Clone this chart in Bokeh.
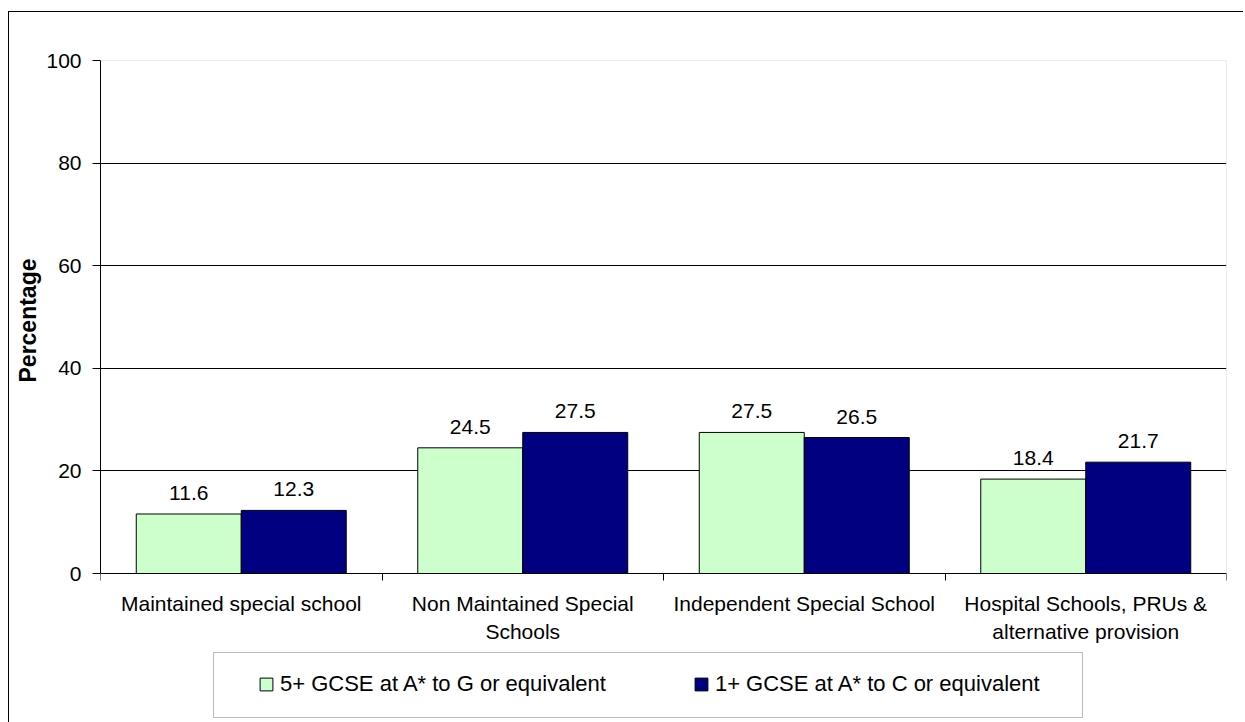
from bokeh.plotting import figure
from bokeh.layouts import column
from bokeh.models import (ColumnDataSource, FixedTicker, LabelSet, Legend, LegendItem,
                          Range1d, BoxAnnotation, Title)
from bokeh.core.properties import value
from bokeh.transform import dodge
from bokeh.embed import file_html
from bokeh.resources import INLINE

# ---- data ----
categories = ["Maintained special school",
              "Non Maintained Special\nSchools",
              "Independent Special School",
              "Hospital Schools, PRUs &\nalternative provision"]
series_names = ["5+ GCSE at A* to G or equivalent",
                "1+ GCSE at A* to C or equivalent"]
gcse5_ag = [11.6, 24.5, 27.5, 18.4]
gcse1_ac = [12.3, 27.5, 26.5, 21.7]
y_ticks = [0, 20, 40, 60, 80, 100]
y_grid = [20, 40, 60, 80]
y_title = "Percentage"

FONT = "Liberation Sans"
GREEN = "#CCFFCC"
NAVY = "#000080"

# page geometry: content origin after margin (8, 11) and 1px border
OX, OY = 9, 12
W, H = 1234, 710
PLOT_L, PLOT_T, PLOT_R, PLOT_B = 100, 60, 1226, 573   # plot area in page pixels
FRAME_B = OY + H                                      # frame runs to the canvas bottom
Y_MAX = 100
y_min = -(FRAME_B - PLOT_B) * Y_MAX / (PLOT_B - PLOT_T)

xc = [i + 0.5 for i in range(len(categories))]
src = ColumnDataSource(dict(
    xc=xc, g=gcse5_ag, b=gcse1_ac,
    gl=[f"{v:.1f}" for v in gcse5_ag],
    bl=[f"{v:.1f}" for v in gcse1_ac],
))

p = figure(width=W, height=H, x_range=Range1d(0, len(categories)), y_range=Range1d(y_min, Y_MAX),
           output_backend="svg", toolbar_location=None, min_border=0)
p.min_border_left = PLOT_L - OX
p.min_border_top = PLOT_T - OY
p.min_border_right = W - (PLOT_R - OX)
p.min_border_bottom = 0
p.background_fill_color = "white"
p.border_fill_color = "white"
p.outline_line_color = None

# plot-area border (grey)
p.add_layout(BoxAnnotation(left=0, right=len(categories), bottom=0, top=Y_MAX,
                           fill_alpha=0, fill_color=None, line_color="#808080",
                           line_width=1, level="underlay"))

BW = 0.373
OFF = 0.1865
r1 = p.vbar(x=dodge("xc", -OFF), top="g", width=BW, source=src,
            fill_color=GREEN, line_color="black", line_width=1)
r2 = p.vbar(x=dodge("xc", OFF), top="b", width=BW, source=src,
            fill_color=NAVY, line_color="black", line_width=1)

for xs, ys, ts in [(dodge("xc", -OFF), "g", "gl"), (dodge("xc", OFF), "b", "bl")]:
    p.add_layout(LabelSet(x=xs, y=ys, text=ts, source=src, text_align="center",
                          text_baseline="alphabetic", y_offset=14,
                          text_font_size="21px", text_font=value(FONT), text_color="black"))

# grid
p.xgrid.visible = False
p.ygrid.ticker = FixedTicker(ticks=y_grid)
p.ygrid.grid_line_color = "black"
p.ygrid.grid_line_width = 1

# x axis, drawn at y = 0
p.xaxis.fixed_location = 0
p.xaxis.ticker = FixedTicker(ticks=xc, minor_ticks=list(range(len(categories) + 1)))
p.xaxis.major_label_overrides = {x: c for x, c in zip(xc, categories)}
p.xaxis.major_tick_line_color = None
p.xaxis.major_tick_out = 0
p.xaxis.major_tick_in = 0
p.xaxis.minor_tick_line_color = "black"
p.xaxis.minor_tick_out = 7
p.xaxis.minor_tick_in = 0
p.xaxis.major_label_standoff = 11
p.xaxis.major_label_text_font = FONT
p.xaxis.major_label_text_font_size = "21px"
p.xaxis.major_label_text_color = "black"
p.xaxis.major_label_text_line_height = 1.25
p.xaxis.axis_line_color = "black"

# y axis
p.yaxis.bounds = (0, Y_MAX)
p.yaxis.ticker = FixedTicker(ticks=y_ticks)
p.yaxis.major_tick_out = 8
p.yaxis.major_tick_in = 0
p.yaxis.major_tick_line_color = "black"
p.yaxis.minor_tick_line_color = None
p.yaxis.major_label_standoff = 11
p.yaxis.major_label_text_font = FONT
p.yaxis.major_label_text_font_size = "21px"
p.yaxis.major_label_text_color = "black"
p.yaxis.axis_line_color = "black"

# y-axis title as a side title so it can be centred on the 0-100 plot area
p.add_layout(Title(text=y_title, align="left", offset=FRAME_B - 382,
                   text_font=FONT, text_font_size="23px", text_font_style="bold",
                   text_color="black", standoff=6), "left")

# legend and its frame
LX, LY, LR, LB = 213, 652, 1082, 717
p.add_layout(BoxAnnotation(left=LX - OX, right=LR - OX, top=LY - OY, bottom=LB - OY,
                           left_units="canvas", right_units="canvas",
                           top_units="canvas", bottom_units="canvas",
                           fill_alpha=0, fill_color=None, line_color="#222222", line_width=1))
legend = Legend(items=[LegendItem(label=series_names[0], renderers=[r1]),
                       LegendItem(label=series_names[1], renderers=[r2])],
                orientation="horizontal", location=(258 - PLOT_L, FRAME_B - 697),
                padding=0, margin=0, spacing=87, glyph_width=16, glyph_height=16,
                label_standoff=6, label_text_font=FONT, label_text_font_size="22px",
                label_text_color="black", border_line_color=None, background_fill_alpha=0)
p.add_layout(legend, "center")

layout = column(p, margin=(11, 0, 0, 8), spacing=0,
                styles={"border-left": "1px solid black", "border-top": "1px solid black"})

open("out.html", "w").write(file_html(layout, INLINE))
